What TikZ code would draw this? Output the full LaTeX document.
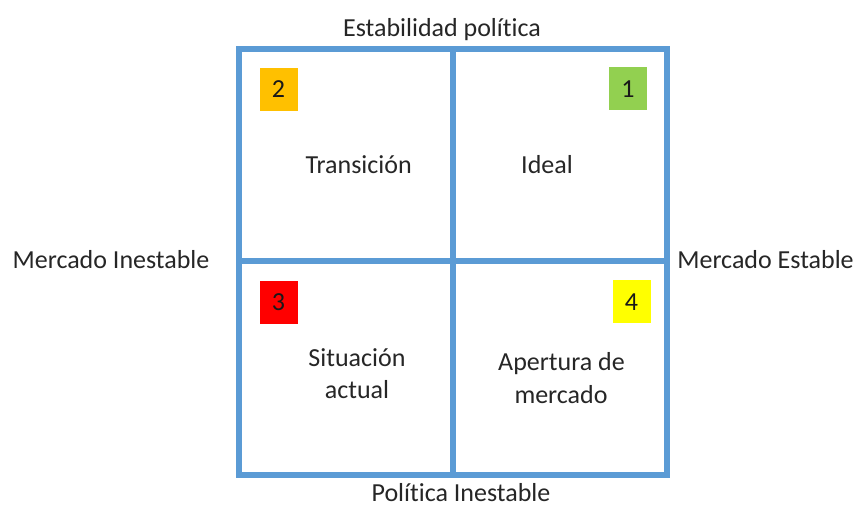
\documentclass[tikz,border=0pt]{standalone}
\usepackage{fontspec}
\setmainfont{Carlito}[Ligatures={NoCommon,NoRequired,NoContextual}]
\definecolor{gridblue}{HTML}{5B9BD5}
\definecolor{qgreen}{HTML}{92D050}
\definecolor{qorange}{HTML}{FFC000}
\definecolor{qred}{HTML}{FF0000}
\definecolor{qyellow}{HTML}{FFFF00}
\begin{document}
\begin{tikzpicture}[x=1pt,y=-1pt,
  gridline/.style={draw=gridblue,line width=6pt,line join=miter},
  lbl/.style={inner sep=0pt,anchor=base,font=\fontsize{26}{33}\selectfont,text=black!85},
  badge/.style={minimum width=38pt,minimum height=43pt,inner sep=0pt,font=\fontsize{26}{33}\selectfont,text=black!90}]
\useasboundingbox (0,0) rectangle (855,507);
\fill[white] (0,0) rectangle (855,507);
% grid
\coordinate (tl) at (238.5,49);
\coordinate (br) at (667,475);
\coordinate (mt) at (453,49);
\coordinate (mb) at (453,475);
\coordinate (ml) at (238.5,261);
\coordinate (mr) at (667,261);
\draw[gridline] (mt) -- (mb);
\draw[gridline] (ml) -- (mr);
\draw[gridline] (tl) rectangle (br);
% axis labels
\node[lbl] (top) at (442,36) {Estabilidad polít\kern0pt ica};
\node[lbl] (bottom) at (461,501.5) {Polít\kern0pt ica Inestable};
\node[lbl] (left) at (111,268.3) {Mercado Inestable};
\node[lbl] (right) at (765.5,268.3) {Mercado Estable};
% badges
\node[badge,fill=qorange] (b2) at (278.5,89) {2};
\node[badge,fill=qgreen] (b1) at (628,88.7) {1};
\node[badge,fill=qred] (b3) at (278.5,302) {3};
\node[badge,fill=qyellow] (b4) at (631.5,301.7) {4};
% quadrant texts
\node[lbl] (q2) at (358.7,173.3) {Transición};
\node[lbl] (q1) at (547,173.3) {Ideal};
\node[lbl] (q3a) at (357,366.7) {Situación};
\node[lbl] (q3b) at (357,398.3) {actual};
\node[lbl] (q4a) at (561.5,370) {Apertura de};
\node[lbl] (q4b) at (561,403.3) {mercado};
\end{tikzpicture}
\end{document}
